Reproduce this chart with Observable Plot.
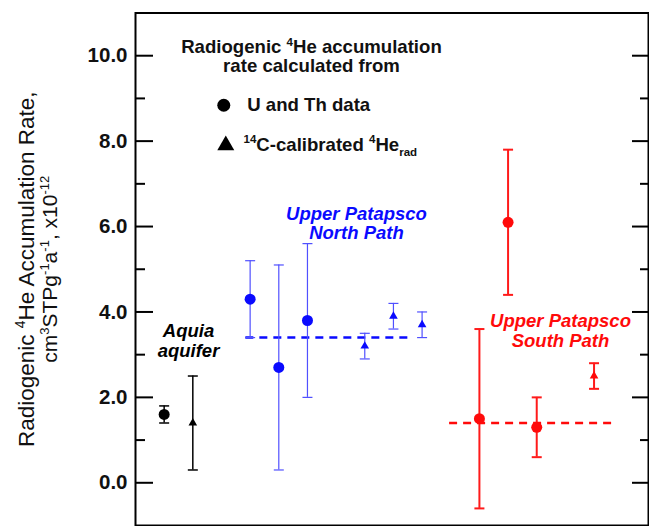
<!DOCTYPE html>
<html>
<head>
<meta charset="utf-8">
<script src="https://cdn.jsdelivr.net/npm/d3@7"></script>
<script src="https://cdn.jsdelivr.net/npm/@observablehq/plot@0.6"></script>
<style>
  html, body { margin: 0; padding: 0; background: #fff; }
</style>
</head>
<body>
<div id="chart"></div>
<script>
// ---- Data ----
const position = [1, 2, 4, 5, 6, 8, 9, 10, 12, 13, 14, 16];
const group    = ["Aquia", "Aquia", "North", "North", "North", "North", "North", "North", "South", "South", "South", "South"];
const method   = ["UTh", "C14", "UTh", "UTh", "UTh", "C14", "C14", "C14", "UTh", "UTh", "UTh", "C14"];
const rate     = [1.6, 1.4, 4.3, 2.7, 3.8, 3.2, 3.9, 3.7, 1.5, 6.1, 1.3, 2.5];
const lower    = [1.4, 0.3, 3.4, 0.3, 2.0, 2.9, 3.6, 3.4, -0.6, 4.4, 0.6, 2.2];
const upper    = [1.8, 2.5, 5.2, 5.1, 5.6, 3.5, 4.2, 4.0, 3.6, 7.8, 2.0, 2.8];

const meanGroup = ["North", "South"];
const meanRate  = [3.4, 1.4];
const meanFrom  = [3.85, 10.96];
const meanTo    = [9.65, 16.63];

const yTicks      = [0, 2, 4, 6, 8, 10];
const yMinorTicks = [1, 3, 5, 7, 9];

// ---- Tables built from the arrays ----
const points = position.map((p, i) => ({pos: p, group: group[i], method: method[i], rate: rate[i], lo: lower[i], hi: upper[i]}));
const means = meanGroup.map((g, i) => ({group: g, rate: meanRate[i], from: meanFrom[i], to: meanTo[i]}));

// ---- Styles ----
const pointColor = {Aquia: "#000000", North: "#0a0aff", South: "#ff0a0a"};
const barColor   = {Aquia: "#000000", North: "#5050ff", South: "#ff1a1a"};
const barWidth   = {Aquia: 1.5, North: 1.2, South: 2};
const font = "'Liberation Sans', Arial, Helvetica, sans-serif";

const capSymbol = {
  draw(context, size) {
    const r = Math.sqrt(size / Math.PI);
    context.moveTo(-r, 0);
    context.lineTo(r, 0);
  }
};

const errorMarks = ["Aquia", "North", "South"].flatMap(g => {
  const d = points.filter(p => p.group === g);
  return [
    Plot.ruleX(d, {x: "pos", y1: "lo", y2: "hi", stroke: barColor[g], strokeWidth: barWidth[g]}),
    Plot.dot(d, {x: "pos", y: "lo", symbol: capSymbol, r: 5, fill: "none", stroke: barColor[g], strokeWidth: barWidth[g]}),
    Plot.dot(d, {x: "pos", y: "hi", symbol: capSymbol, r: 5, fill: "none", stroke: barColor[g], strokeWidth: barWidth[g]})
  ];
});

const pointMarks = ["Aquia", "North", "South"].flatMap(g => [
  Plot.dot(points.filter(p => p.group === g && p.method === "UTh"), {x: "pos", y: "rate", symbol: "circle", r: 5.5, fill: pointColor[g], stroke: "none"}),
  Plot.dot(points.filter(p => p.group === g && p.method === "C14"), {x: "pos", y: "rate", symbol: "triangle", r: 3.2, fill: pointColor[g], stroke: "none"})
]);

const meanMarks = means.map(m =>
  Plot.ruleY([m], {y: "rate", x1: "from", x2: "to", stroke: pointColor[m.group], strokeWidth: 2.5, strokeDasharray: "8,6"})
);

const groupLabel = (label, x, y, lineHeight, color) =>
  Plot.text([label], {x, y, text: d => d, lineHeight, fill: color, fontSize: 18.5, fontWeight: "bold", fontStyle: "italic", textAnchor: "middle", fontFamily: font});

const chart = Plot.plot({
  width: 649,
  height: 526,
  marginLeft: 135,
  marginRight: 1,
  marginTop: 12.5,
  marginBottom: 1,
  x: {domain: [0, 17.9], axis: null},
  y: {domain: [-1, 11], axis: null},
  style: {fontFamily: font, background: "#fff", color: "#000", overflow: "visible"},
  marks: [
    // tick marks (inward) on left and right
    Plot.axisY(yTicks, {anchor: "left", tickSize: -18, fill: "none", stroke: "#000", strokeWidth: 2, label: null}),
    Plot.axisY(yMinorTicks, {anchor: "left", tickSize: -10, fill: "none", stroke: "#000", strokeWidth: 2, label: null}),
    Plot.axisY(yTicks, {anchor: "right", tickSize: -17, fill: "none", stroke: "#000", strokeWidth: 2, label: null}),
    Plot.axisY(yMinorTicks, {anchor: "right", tickSize: -9, fill: "none", stroke: "#000", strokeWidth: 2, label: null}),
    // tick labels
    Plot.axisY(yTicks, {anchor: "left", tickSize: 0, tickPadding: 8, tickFormat: d3.format(".1f"), fontSize: 20.5, fontWeight: "bold", fill: "#111", label: null}),
    // y-axis title (two lines)
    Plot.text(["Radiogenic ^{4}He Accumulation Rate,"], {frameAnchor: "left", dx: -109, rotate: -90, text: d => d, fontSize: 22.5, fill: "#111", textAnchor: "middle"}),
    Plot.text(["cm^{3}STPg^{-1}a^{-1}, x10^{-12}"], {frameAnchor: "left", dx: -85, rotate: -90, text: d => d, fontSize: 21, fill: "#111", textAnchor: "middle"}),
    // legend
    Plot.text(["Radiogenic ^{4}He accumulation"], {x: 6.14, y: 10.2, text: d => d, fontSize: 18.6, fontWeight: "bold", textAnchor: "middle", fill: "#111"}),
    Plot.text(["rate calculated from"], {x: 6.14, y: 9.76, text: d => d, fontSize: 18.6, fontWeight: "bold", textAnchor: "middle", fill: "#111"}),
    Plot.dot(["UTh"], {x: 3.08, y: 8.84, symbol: "circle", r: 6.5, fill: "#000", stroke: "none"}),
    Plot.text(["U and Th data"], {x: 3.9, y: 8.84, text: d => d, fontSize: 18.6, fontWeight: "bold", textAnchor: "start", fill: "#111"}),
    Plot.dot(["C14"], {x: 3.15, y: 7.9, symbol: "triangle", r: 6.3, fill: "#000", stroke: "none"}),
    Plot.text(["^{14}C-calibrated ^{4}He_{rad}"], {x: 3.77, y: 7.91, text: d => d, fontSize: 18.6, fontWeight: "bold", textAnchor: "start", fill: "#111"}),
    // group labels
    groupLabel("Aquia\naquifer", 1.85, 3.32, 1.06, "#000"),
    groupLabel("Upper Patapsco\nNorth Path", 7.71, 6.08, 1.04, "#0a0aff"),
    groupLabel("Upper Patapsco\nSouth Path", 14.83, 3.56, 1.06, "#ff0a0a"),
    // data
    ...meanMarks,
    ...errorMarks,
    ...pointMarks,
    Plot.frame({stroke: "#000", strokeWidth: 2})
  ]
});

document.getElementById("chart").appendChild(chart);

// Render ^{...} as superscripts and _{...} as subscripts (real text, tspans)
d3.select(chart).selectAll("text").each(function() {
  const s = this.textContent;
  if (!/[\^_]\{/.test(s)) return;
  const fs = parseFloat(getComputedStyle(this).fontSize) || 16;
  const parts = s.split(/(\^\{[^}]*\}|_\{[^}]*\})/).filter(p => p !== "");
  const el = d3.select(this);
  el.text(null);
  let shift = 0;
  for (const p of parts) {
    let target = 0, txt = p, small = false;
    if (p.startsWith("^{")) { target = -0.4 * fs; txt = p.slice(2, -1); small = true; }
    else if (p.startsWith("_{")) { target = 0.25 * fs; txt = p.slice(2, -1); small = true; }
    const ts = el.append("tspan").text(txt);
    if (target - shift !== 0) ts.attr("dy", target - shift);
    if (small) ts.attr("font-size", 0.62 * fs);
    shift = target;
  }
});
</script>
</body>
</html>
